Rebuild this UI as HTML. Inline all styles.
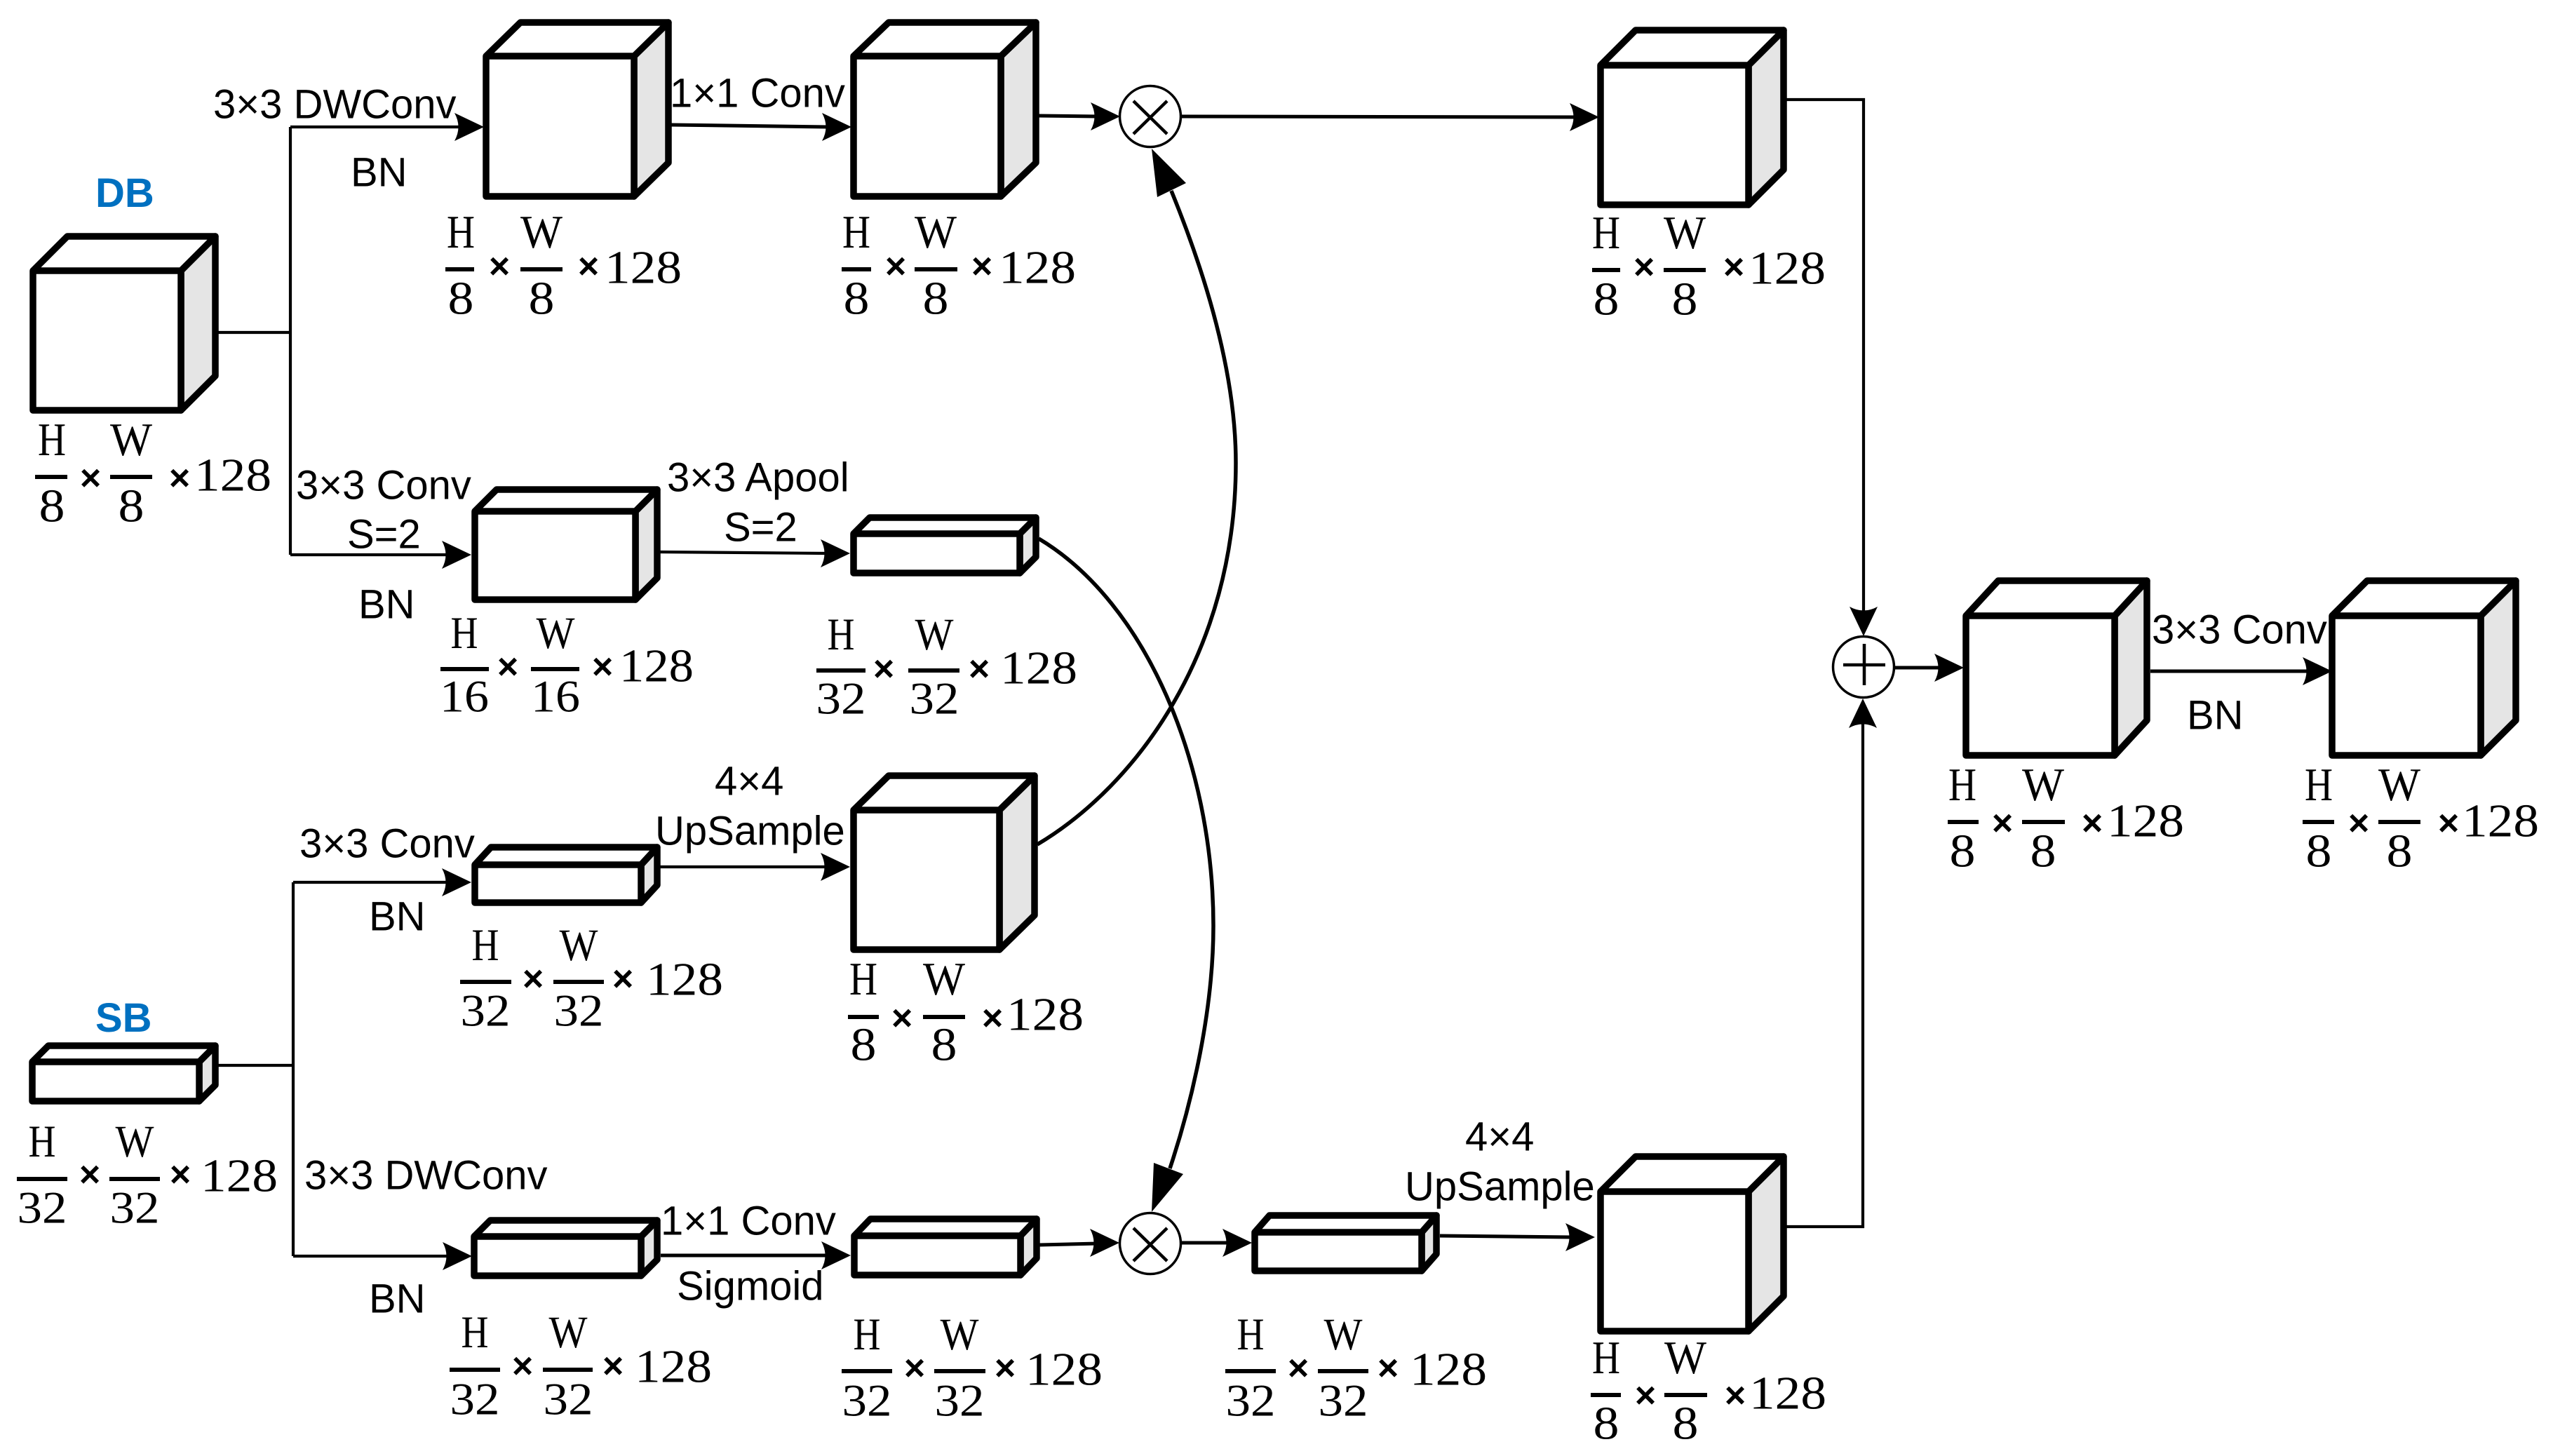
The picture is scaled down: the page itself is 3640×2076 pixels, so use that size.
<!DOCTYPE html>
<html>
<head>
<meta charset="utf-8">
<style>
html,body{margin:0;padding:0;background:#fff}
svg{display:block}
.s{fill:#e5e5e5;stroke:#000;stroke-width:9.5;stroke-linejoin:round}
.w{fill:#fff;stroke:#000;stroke-width:9.5;stroke-linejoin:round}
.l{fill:none;stroke:#000;stroke-width:5;stroke-linejoin:miter}
.n{fill:none;stroke:#000;stroke-width:4.2;stroke-linejoin:miter}
.q{fill:none;stroke:#000;stroke-width:5.5}
.c{fill:#fff;stroke:#000;stroke-width:3.5}
.t{font-family:"Liberation Sans",sans-serif;font-size:58px;fill:#000;transform:translate(2px,1.5px)}
.b{font-family:"Liberation Sans",sans-serif;font-size:58px;font-weight:bold;fill:#0070c0;transform:translate(2px,1px)}
.f{font-family:"Liberation Serif",serif;font-size:67px;fill:#000;text-anchor:middle}
.h{font-family:"Liberation Serif",serif;font-size:65px;fill:#000;text-anchor:middle}
.g{font-family:"Liberation Serif",serif;font-size:67px;fill:#000;transform:translate(1px,1.5px)}
.x{font-family:"Liberation Sans",sans-serif;font-size:52px;font-weight:bold;fill:#000;text-anchor:middle;transform:translateY(1px)}
.r{stroke:#000;stroke-width:6}
text[textLength="37"],text[textLength="71"],text[textLength="70"]{transform:translateY(1.5px)}
</style>
</head>
<body>
<svg width="3640" height="2076" viewBox="0 0 3640 2076" xmlns="http://www.w3.org/2000/svg">
<defs><path id="a" d="M0 0L-42 -20Q-31 0 -42 20Z" fill="#000"/></defs>
<rect width="3640" height="2076" fill="#fff"/>

<!-- connectors -->
<path class="n" d="M311 474H414M414 181V791M414 181H655M414 791H640"/>
<path class="l" d="M957 178L1180 181"/>
<path class="l" d="M1480 165L1565 166"/>
<path class="l" d="M1684 166L2250 167"/>
<path class="n" d="M2547 142H2657V875"/>
<path class="n" d="M2546 1749H2656V1030"/>
<path class="l" d="M2700 952L2770 952"/>
<path class="l" d="M3066 957H3295"/>
<path class="n" d="M941 787L1180 789"/>
<path class="n" d="M311 1519H418M418 1258V1791M418 1258H640M418 1791H640"/>
<path class="n" d="M941 1236H1180"/>
<path class="l" d="M942 1790H1180"/>
<path class="l" d="M1482 1775L1565 1773"/>
<path class="l" d="M1683 1772H1755"/>
<path class="l" d="M2053 1762L2240 1764"/>
<path class="q" d="M1479 1204C1620 1120 1762 930 1762 660C1762 520 1710 370 1670 272"/>
<path class="q" d="M1481 768C1635 860 1730 1090 1730 1320C1730 1440 1700 1570 1668 1666"/>

<!-- arrowheads -->
<use href="#a" transform="translate(690 181)"/>
<use href="#a" transform="translate(672 791)"/>
<use href="#a" transform="translate(1214 181)"/>
<use href="#a" transform="translate(1597 166)"/>
<use href="#a" transform="translate(2280 167)"/>
<use href="#a" transform="translate(2657 907) rotate(90)"/>
<use href="#a" transform="translate(2656 996) rotate(-90)"/>
<use href="#a" transform="translate(2800 952)"/>
<use href="#a" transform="translate(3325 957)"/>
<use href="#a" transform="translate(1212 789)"/>
<use href="#a" transform="translate(672 1258)"/>
<use href="#a" transform="translate(673 1791)"/>
<use href="#a" transform="translate(1212 1236)"/>
<use href="#a" transform="translate(1213 1790)"/>
<use href="#a" transform="translate(1596 1772)"/>
<use href="#a" transform="translate(1785 1772)"/>
<use href="#a" transform="translate(2274 1764)"/>
<path d="M1642 212L1650 281L1691 261Z" fill="#000"/>
<path d="M1642 1728L1645 1658L1687 1674Z" fill="#000"/>

<!-- cubes -->
<path class="s" d="M258 386l49 -49v199l-49 49z"/><path class="w" d="M47 386h211v199h-211zM47 386l49 -49h211l-49 49z"/>
<path class="s" d="M904 80l49 -48v200l-49 48z"/><path class="w" d="M693 80h211v200h-211zM693 80l49 -48h211l-49 48z"/>
<path class="s" d="M1427 80l50 -48v200l-50 48z"/><path class="w" d="M1217 80h210v200h-210zM1217 80l50 -48h210l-50 48z"/>
<path class="s" d="M2493 93l50 -50v199l-50 50z"/><path class="w" d="M2282 93h211v199h-211zM2282 93l50 -50h211l-50 50z"/>
<path class="s" d="M906 729l31 -31v126l-31 31z"/><path class="w" d="M677 729h229v126h-229zM677 729l31 -31h229l-31 31z"/>
<path class="s" d="M1454 761l23 -23v56l-23 23z"/><path class="w" d="M1217 761h237v56h-237zM1217 761l23 -23h237l-23 23z"/>
<path class="s" d="M914 1233l23 -25v54l-23 25z"/><path class="w" d="M677 1233h237v54h-237zM677 1233l23 -25h237l-23 25z"/>
<path class="s" d="M1425 1155l50 -49v199l-50 49z"/><path class="w" d="M1217 1155h208v199h-208zM1217 1155l50 -49h208l-50 49z"/>
<path class="s" d="M284 1514l23 -23v56l-23 23z"/><path class="w" d="M46 1514h238v56h-238zM46 1514l23 -23h238l-23 23z"/>
<path class="s" d="M914 1763l23 -23v56l-23 23z"/><path class="w" d="M676 1763h238v56h-238zM676 1763l23 -23h238l-23 23z"/>
<path class="s" d="M1455 1762l23 -24v56l-23 24z"/><path class="w" d="M1218 1762h237v56h-237zM1218 1762l23 -24h237l-23 24z"/>
<path class="s" d="M2027 1757l21 -24v55l-21 24z"/><path class="w" d="M1789 1757h238v55h-238zM1789 1757l21 -24h238l-21 24z"/>
<path class="s" d="M2493 1699l50 -50v199l-50 50z"/><path class="w" d="M2282 1699h211v199h-211zM2282 1699l50 -50h211l-50 50z"/>
<path class="s" d="M3015 878l46 -50v199l-46 50z"/><path class="w" d="M2803 878h212v199h-212zM2803 878l46 -50h212l-46 50z"/>
<path class="s" d="M3537 878l50 -50v199l-50 50z"/><path class="w" d="M3325 878h212v199h-212zM3325 878l50 -50h212l-50 50z"/>

<!-- operators -->
<circle class="c" cx="1640" cy="166" r="43.5"/>
<path d="M1616 144L1664 191M1664 144L1616 191" stroke="#000" stroke-width="4.5" fill="none"/>
<circle class="c" cx="1640" cy="1773" r="43.5"/>
<path d="M1616 1751L1664 1798M1664 1751L1616 1798" stroke="#000" stroke-width="4.5" fill="none"/>
<circle class="c" cx="2657" cy="951" r="43.5"/>
<path d="M2628 948H2688M2658 918V977" stroke="#000" stroke-width="4.5" fill="none"/>

<!-- sans labels -->
<text class="b" x="134" y="294">DB</text>
<text class="b" x="134" y="1470">SB</text>
<text class="t" x="302" y="167">3×3 DWConv</text>
<text class="t" x="498" y="264">BN</text>
<text class="t" x="953" y="151">1×1 Conv</text>
<text class="t" x="420" y="710">3×3 Conv</text>
<text class="t" x="493" y="780">S=2</text>
<text class="t" x="509" y="880">BN</text>
<text class="t" x="949" y="699">3×3 Apool</text>
<text class="t" x="1030" y="770">S=2</text>
<text class="t" x="1017" y="1132">4×4</text>
<text class="t" x="932" y="1203">UpSample</text>
<text class="t" x="425" y="1221">3×3 Conv</text>
<text class="t" x="524" y="1325">BN</text>
<text class="t" x="432" y="1694">3×3 DWConv</text>
<text class="t" x="524" y="1870">BN</text>
<text class="t" x="940" y="1759">1×1 Conv</text>
<text class="t" x="963" y="1852">Sigmoid</text>
<text class="t" x="2087" y="1639">4×4</text>
<text class="t" x="2001" y="1710">UpSample</text>
<text class="t" x="3066" y="916">3×3 Conv</text>
<text class="t" x="3116" y="1038">BN</text>

<!-- dimension labels -->
<g>
<path class="r" d="M50 680H96M157 680H217"/>
<text class="f" x="74" y="649" textLength="40" lengthAdjust="spacingAndGlyphs">H</text><text class="f" x="187" y="649" textLength="60" lengthAdjust="spacingAndGlyphs">W</text>
<text class="f" x="74" y="742" textLength="37" lengthAdjust="spacingAndGlyphs">8</text><text class="f" x="187" y="742" textLength="37" lengthAdjust="spacingAndGlyphs">8</text>
<text class="x" x="129" y="698">×</text><text class="x" x="256" y="698">×</text><text class="g" x="276" y="698" textLength="110" lengthAdjust="spacingAndGlyphs">128</text>
</g>
<g>
<path class="r" d="M635 384H676M742 384H802"/>
<text class="f" x="657" y="353" textLength="40" lengthAdjust="spacingAndGlyphs">H</text><text class="f" x="772" y="353" textLength="60" lengthAdjust="spacingAndGlyphs">W</text>
<text class="f" x="657" y="446" textLength="37" lengthAdjust="spacingAndGlyphs">8</text><text class="f" x="772" y="446" textLength="37" lengthAdjust="spacingAndGlyphs">8</text>
<text class="x" x="712" y="396">×</text><text class="x" x="839" y="396">×</text><text class="g" x="861" y="402" textLength="110" lengthAdjust="spacingAndGlyphs">128</text>
</g>
<g>
<path class="r" d="M1200 384H1242M1304 384H1365"/>
<text class="f" x="1221" y="353" textLength="40" lengthAdjust="spacingAndGlyphs">H</text><text class="f" x="1334" y="353" textLength="60" lengthAdjust="spacingAndGlyphs">W</text>
<text class="f" x="1221" y="446" textLength="37" lengthAdjust="spacingAndGlyphs">8</text><text class="f" x="1334" y="446" textLength="37" lengthAdjust="spacingAndGlyphs">8</text>
<text class="x" x="1277" y="396">×</text><text class="x" x="1400" y="396">×</text><text class="g" x="1423" y="402" textLength="110" lengthAdjust="spacingAndGlyphs">128</text>
</g>
<g>
<path class="r" d="M2270 385H2310M2372 385H2432"/>
<text class="f" x="2290" y="354" textLength="40" lengthAdjust="spacingAndGlyphs">H</text><text class="f" x="2402" y="354" textLength="60" lengthAdjust="spacingAndGlyphs">W</text>
<text class="f" x="2290" y="447" textLength="37" lengthAdjust="spacingAndGlyphs">8</text><text class="f" x="2402" y="447" textLength="37" lengthAdjust="spacingAndGlyphs">8</text>
<text class="x" x="2344" y="397">×</text><text class="x" x="2472" y="397">×</text><text class="g" x="2492" y="403" textLength="110" lengthAdjust="spacingAndGlyphs">128</text>
</g>
<g>
<path class="r" d="M628 954H697M757 954H826"/>
<text class="h" x="662" y="924" textLength="39" lengthAdjust="spacingAndGlyphs">H</text><text class="h" x="792" y="924" textLength="55" lengthAdjust="spacingAndGlyphs">W</text>
<text class="h" x="662" y="1013" textLength="70" lengthAdjust="spacingAndGlyphs">16</text><text class="h" x="792" y="1013" textLength="70" lengthAdjust="spacingAndGlyphs">16</text>
<text class="x" x="724" y="967">×</text><text class="x" x="859" y="967">×</text><text class="g" x="882" y="970" textLength="106" lengthAdjust="spacingAndGlyphs">128</text>
</g>
<g>
<path class="r" d="M1164 956H1234M1295 956H1368"/>
<text class="h" x="1199" y="926" textLength="39" lengthAdjust="spacingAndGlyphs">H</text><text class="h" x="1332" y="926" textLength="55" lengthAdjust="spacingAndGlyphs">W</text>
<text class="h" x="1199" y="1016" textLength="71" lengthAdjust="spacingAndGlyphs">32</text><text class="h" x="1332" y="1016" textLength="71" lengthAdjust="spacingAndGlyphs">32</text>
<text class="x" x="1260" y="970">×</text><text class="x" x="1396" y="970">×</text><text class="g" x="1425" y="973" textLength="110" lengthAdjust="spacingAndGlyphs">128</text>
</g>
<g>
<path class="r" d="M656 1400H729M789 1400H861"/>
<text class="h" x="692" y="1369" textLength="39" lengthAdjust="spacingAndGlyphs">H</text><text class="h" x="825" y="1369" textLength="55" lengthAdjust="spacingAndGlyphs">W</text>
<text class="h" x="692" y="1461" textLength="71" lengthAdjust="spacingAndGlyphs">32</text><text class="h" x="825" y="1461" textLength="71" lengthAdjust="spacingAndGlyphs">32</text>
<text class="x" x="760" y="1412">×</text><text class="x" x="888" y="1412">×</text><text class="g" x="920" y="1417" textLength="110" lengthAdjust="spacingAndGlyphs">128</text>
</g>
<g>
<path class="r" d="M1209 1450H1253M1316 1450H1376"/>
<text class="f" x="1231" y="1418" textLength="40" lengthAdjust="spacingAndGlyphs">H</text><text class="f" x="1346" y="1418" textLength="60" lengthAdjust="spacingAndGlyphs">W</text>
<text class="f" x="1231" y="1510" textLength="37" lengthAdjust="spacingAndGlyphs">8</text><text class="f" x="1346" y="1510" textLength="37" lengthAdjust="spacingAndGlyphs">8</text>
<text class="x" x="1286" y="1468">×</text><text class="x" x="1415" y="1468">×</text><text class="g" x="1434" y="1467" textLength="110" lengthAdjust="spacingAndGlyphs">128</text>
</g>
<g>
<path class="r" d="M24 1681H96M156 1681H228"/>
<text class="h" x="60" y="1649" textLength="39" lengthAdjust="spacingAndGlyphs">H</text><text class="h" x="192" y="1649" textLength="55" lengthAdjust="spacingAndGlyphs">W</text>
<text class="h" x="60" y="1742" textLength="71" lengthAdjust="spacingAndGlyphs">32</text><text class="h" x="192" y="1742" textLength="71" lengthAdjust="spacingAndGlyphs">32</text>
<text class="x" x="128" y="1691">×</text><text class="x" x="257" y="1691">×</text><text class="g" x="285" y="1697" textLength="110" lengthAdjust="spacingAndGlyphs">128</text>
</g>
<g>
<path class="r" d="M641 1953H713M774 1953H845"/>
<text class="h" x="677" y="1921" textLength="39" lengthAdjust="spacingAndGlyphs">H</text><text class="h" x="810" y="1921" textLength="55" lengthAdjust="spacingAndGlyphs">W</text>
<text class="h" x="677" y="2015" textLength="71" lengthAdjust="spacingAndGlyphs">32</text><text class="h" x="810" y="2015" textLength="71" lengthAdjust="spacingAndGlyphs">32</text>
<text class="x" x="745" y="1964">×</text><text class="x" x="874" y="1964">×</text><text class="g" x="904" y="1969" textLength="110" lengthAdjust="spacingAndGlyphs">128</text>
</g>
<g>
<path class="r" d="M1200 1955H1272M1332 1955H1405"/>
<text class="h" x="1236" y="1924" textLength="39" lengthAdjust="spacingAndGlyphs">H</text><text class="h" x="1368" y="1924" textLength="55" lengthAdjust="spacingAndGlyphs">W</text>
<text class="h" x="1236" y="2017" textLength="71" lengthAdjust="spacingAndGlyphs">32</text><text class="h" x="1368" y="2017" textLength="71" lengthAdjust="spacingAndGlyphs">32</text>
<text class="x" x="1304" y="1967">×</text><text class="x" x="1433" y="1967">×</text><text class="g" x="1461" y="1973" textLength="110" lengthAdjust="spacingAndGlyphs">128</text>
</g>
<g>
<path class="r" d="M1747 1955H1819M1879 1955H1951"/>
<text class="h" x="1783" y="1924" textLength="39" lengthAdjust="spacingAndGlyphs">H</text><text class="h" x="1915" y="1924" textLength="55" lengthAdjust="spacingAndGlyphs">W</text>
<text class="h" x="1783" y="2017" textLength="71" lengthAdjust="spacingAndGlyphs">32</text><text class="h" x="1915" y="2017" textLength="71" lengthAdjust="spacingAndGlyphs">32</text>
<text class="x" x="1851" y="1967">×</text><text class="x" x="1979" y="1967">×</text><text class="g" x="2009" y="1973" textLength="110" lengthAdjust="spacingAndGlyphs">128</text>
</g>
<g>
<path class="r" d="M2268 1989H2311M2373 1989H2434"/>
<text class="f" x="2290" y="1958" textLength="40" lengthAdjust="spacingAndGlyphs">H</text><text class="f" x="2403" y="1958" textLength="60" lengthAdjust="spacingAndGlyphs">W</text>
<text class="f" x="2290" y="2050" textLength="37" lengthAdjust="spacingAndGlyphs">8</text><text class="f" x="2403" y="2050" textLength="37" lengthAdjust="spacingAndGlyphs">8</text>
<text class="x" x="2346" y="2006">×</text><text class="x" x="2474" y="2006">×</text><text class="g" x="2493" y="2007" textLength="110" lengthAdjust="spacingAndGlyphs">128</text>
</g>
<g>
<path class="r" d="M2777 1172H2821M2883 1172H2944"/>
<text class="f" x="2798" y="1141" textLength="40" lengthAdjust="spacingAndGlyphs">H</text><text class="f" x="2913" y="1141" textLength="60" lengthAdjust="spacingAndGlyphs">W</text>
<text class="f" x="2798" y="1234" textLength="37" lengthAdjust="spacingAndGlyphs">8</text><text class="f" x="2913" y="1234" textLength="37" lengthAdjust="spacingAndGlyphs">8</text>
<text class="x" x="2855" y="1190">×</text><text class="x" x="2983" y="1190">×</text><text class="g" x="3003" y="1191" textLength="110" lengthAdjust="spacingAndGlyphs">128</text>
</g>
<g>
<path class="r" d="M3283 1172H3328M3391 1172H3451"/>
<text class="f" x="3306" y="1141" textLength="40" lengthAdjust="spacingAndGlyphs">H</text><text class="f" x="3421" y="1141" textLength="60" lengthAdjust="spacingAndGlyphs">W</text>
<text class="f" x="3306" y="1234" textLength="37" lengthAdjust="spacingAndGlyphs">8</text><text class="f" x="3421" y="1234" textLength="37" lengthAdjust="spacingAndGlyphs">8</text>
<text class="x" x="3363" y="1190">×</text><text class="x" x="3491" y="1190">×</text><text class="g" x="3509" y="1191" textLength="110" lengthAdjust="spacingAndGlyphs">128</text>
</g>
</svg>
</body>
</html>
